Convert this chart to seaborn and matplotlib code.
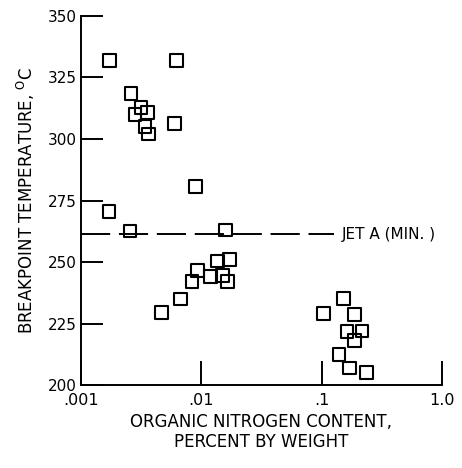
import matplotlib
matplotlib.use("Agg")
import matplotlib.pyplot as plt
import seaborn as sns
import pandas as pd
from matplotlib.ticker import FixedLocator, FixedFormatter, NullLocator

nitrogen = [0.00172, 0.0062, 0.00261, 0.00316, 0.00282, 0.00357, 0.00341, 0.00364,
            0.00596, 0.00897, 0.00171, 0.00256, 0.0158, 0.0047, 0.00668, 0.00836,
            0.0093, 0.0119, 0.0137, 0.0171, 0.0149, 0.0164,
            0.103, 0.151, 0.188, 0.162, 0.216, 0.186, 0.139, 0.169, 0.237]
breakpoint = [332, 332, 318.6, 312.7, 309.8, 310.8, 305, 302,
              306.4, 280.6, 270.5, 262.6, 263, 229.4, 235, 242,
              246.5, 244, 250.4, 251.2, 244.7, 242,
              229.1, 235.2, 228.7, 221.7, 222, 218.3, 212.6, 207, 205]
jet_a_min = 261.4
x_ticks = [0.001, 0.01, 0.1, 1.0]
x_tick_labels = [".001", ".01", ".1", "1.0"]
y_ticks = [200, 225, 250, 275, 300, 325, 350]

sns.set_style("white")
plt.rcParams['font.family'] = ['DejaVu Sans']
plt.rcParams['text.color'] = 'black'
plt.rcParams['axes.labelcolor'] = 'black'

df = pd.DataFrame({"n": nitrogen, "t": breakpoint})

fig = plt.figure(figsize=(4.62, 4.68), dpi=100)
ax = fig.add_axes([0.175, 0.177, 0.782, 0.789])
sns.scatterplot(data=df, x="n", y="t", ax=ax, marker="s", s=85,
                facecolor="none", edgecolor="black", linewidth=1.5, legend=False)
ax.set_xscale("log")
ax.set_xlim(0.001, 1.0)
ax.set_ylim(200, 350)

ax.plot([0.001, 0.126], [jet_a_min, jet_a_min], color="black", lw=1.4,
        dashes=(15, 4.5))
ax.text(0.147, jet_a_min, "JET A (MIN. )", va="center", ha="left", fontsize=11,
        color="black")

for s in ["top", "right"]:
    ax.spines[s].set_visible(False)
for s in ["left", "bottom"]:
    ax.spines[s].set_color("black")
    ax.spines[s].set_linewidth(1.4)

ax.xaxis.set_major_locator(FixedLocator(x_ticks))
ax.xaxis.set_major_formatter(FixedFormatter(x_tick_labels))
ax.xaxis.set_minor_locator(NullLocator())
ax.set_yticks(y_ticks)
ax.tick_params(axis="x", direction="in", length=17, width=1.4, labelsize=11.5,
               pad=6, colors="black", bottom=True)
ax.tick_params(axis="y", direction="in", length=16, width=1.4, labelsize=11,
               pad=3, colors="black", left=True)
ax.set_xlabel("ORGANIC NITROGEN CONTENT,\nPERCENT BY WEIGHT", fontsize=12,
              linespacing=1.15, labelpad=3)
ax.set_ylabel(r"BREAKPOINT TEMPERATURE, $^{\rm O}$C", fontsize=12, labelpad=8)

fig.savefig("out.png", dpi=100)
